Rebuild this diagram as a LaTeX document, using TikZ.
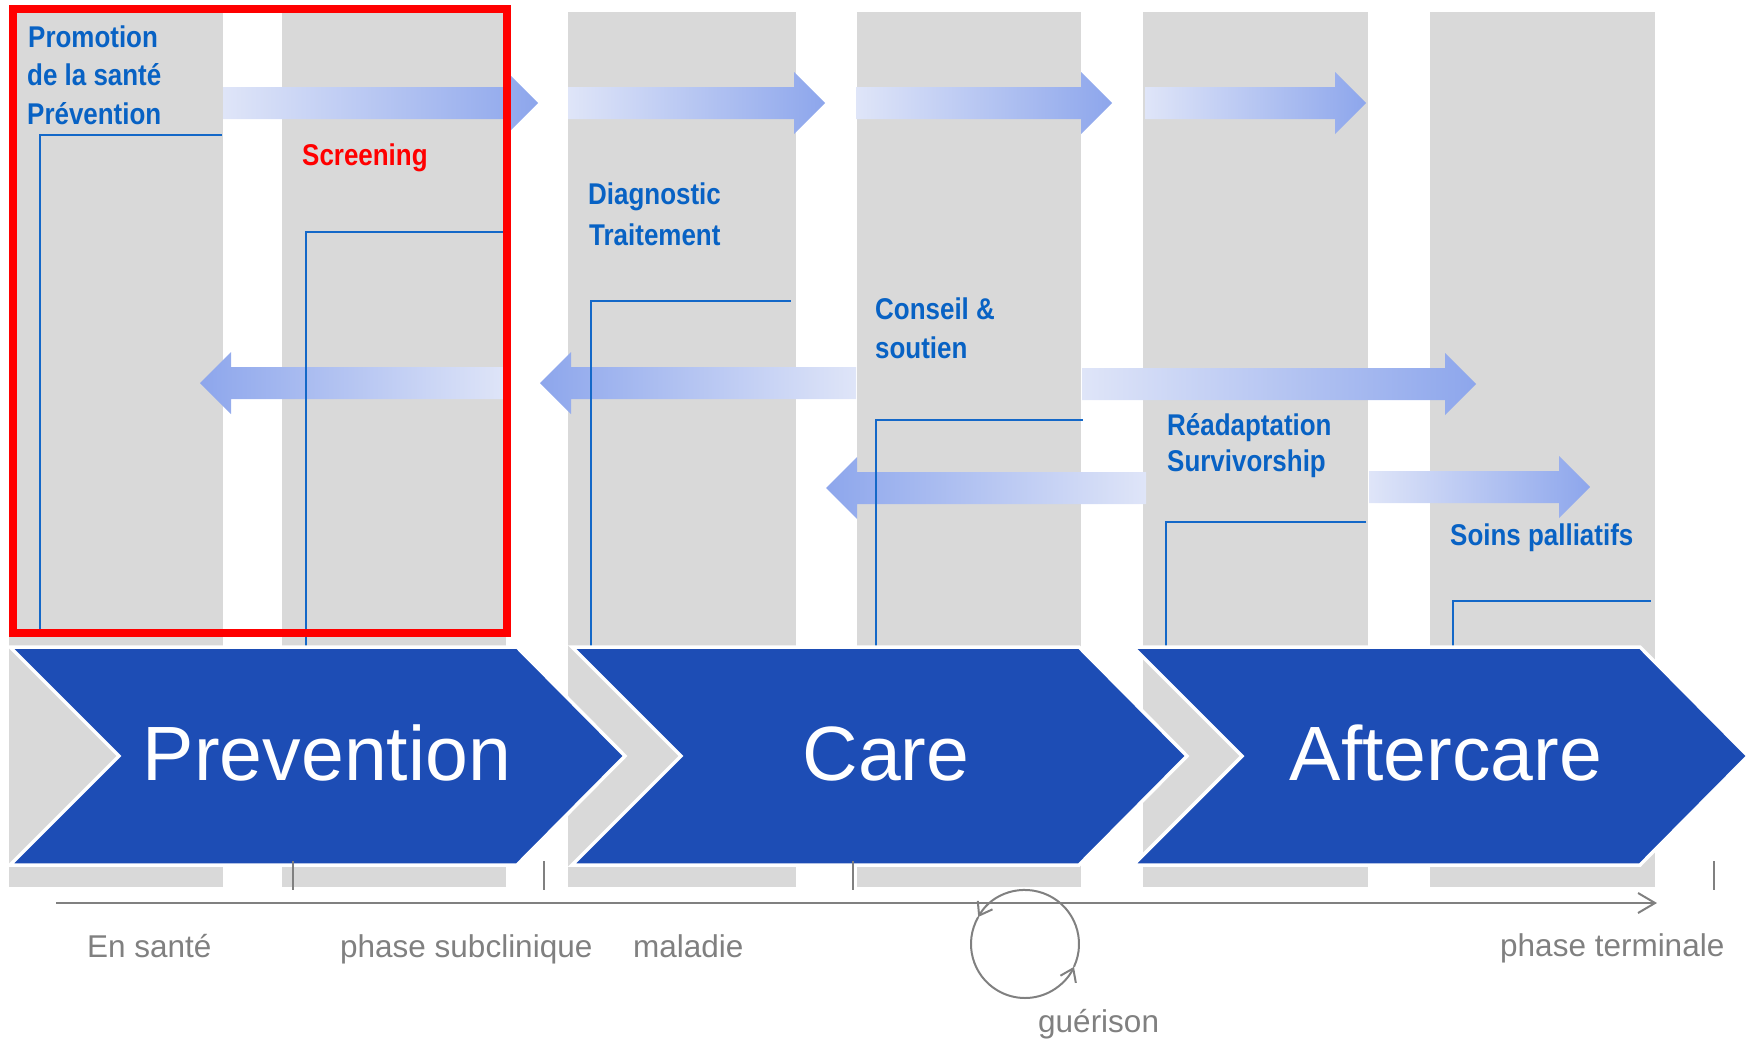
\documentclass[tikz,border=0pt]{standalone}
\usepackage{fontspec}
\setmainfont{Liberation Sans}
\newfontfamily\condfont[FakeStretch=0.865]{Liberation Sans}
\usetikzlibrary{arrows.meta,calc}
\definecolor{colgray}{RGB}{217,217,217}
\definecolor{chevblue}{RGB}{29,77,181}
\definecolor{txtblue}{RGB}{8,98,196}
\definecolor{lineblue}{RGB}{20,104,200}
\definecolor{flowlight}{RGB}{223,229,248}
\definecolor{flowdark}{RGB}{141,166,236}
\definecolor{axgray}{RGB}{128,128,128}
\newcommand{\flowR}[3]{\shade[left color=flowlight,right color=flowdark] (#1,#3-16) -- (#2-31,#3-16) -- (#2-31,#3-31) -- (#2,#3) -- (#2-31,#3+31) -- (#2-31,#3+16) -- (#1,#3+16) -- cycle;}
\newcommand{\flowL}[3]{\shade[left color=flowdark,right color=flowlight] (#1,#3-16) -- (#2+31,#3-16) -- (#2+31,#3-31) -- (#2,#3) -- (#2+31,#3+31) -- (#2+31,#3+16) -- (#1,#3+16) -- cycle;}
\newcommand{\chevshape}[1]{(#1,647) -- (#1+507,647) -- (#1+615,756) -- (#1+507,865) -- (#1,865) -- (#1+109,756) -- cycle}
\begin{document}
\begin{tikzpicture}[x=1pt,y=-1pt,
  colbox/.style={fill=colgray,draw=none},
  lbl/.style={font=\condfont\bfseries\fontsize{30}{36}\selectfont,text=txtblue,inner sep=0pt,anchor=base west},
  redlbl/.style={lbl,text=red},
  bracket/.style={draw=lineblue,line width=2pt},
  chev/.style={fill=chevblue,draw=white,line width=3.5pt},
  chevtxt/.style={font=\fontsize{77}{80}\selectfont,text=white,inner sep=0pt,anchor=base},
  phase/.style={font=\fontsize{31.5}{36}\selectfont,text=axgray,inner sep=0pt,anchor=base west},
  tick/.style={draw=axgray,line width=2pt},
  axis/.style={draw=axgray,line width=2pt,-{Straight Barb[length=17pt,width=20pt,line width=2pt]}},
  loop/.style={draw=axgray,line width=2pt,-{Straight Barb[length=12pt,width=17pt,line width=2pt]}}
]
\useasboundingbox (0,0) rectangle (1756,1039);
% grey columns
\fill[colbox] (9,12) rectangle (223,887);
\fill[colbox] (282,12) rectangle (506,887);
\fill[colbox] (568,12) rectangle (796,887);
\fill[colbox] (857,12) rectangle (1081,887);
\fill[colbox] (1143,12) rectangle (1368,887);
\fill[colbox] (1430,12) rectangle (1655,887);
% flow arrows
\flowR{223}{538}{103}
\flowR{568}{825}{103}
\flowR{856}{1112}{103}
\flowR{1145}{1366}{103}
\flowL{506}{200}{383}
\flowL{856}{540}{383}
\flowR{1082}{1476}{384}
\flowL{1146}{826}{488}
\flowR{1369}{1590}{487}
% brackets
\draw[bracket] (40,633) -- (40,135) -- (222,135);
\draw[bracket] (306,648) -- (306,232) -- (504,232);
\draw[bracket] (591,648) -- (591,301) -- (791,301);
\draw[bracket] (876,648) -- (876,420) -- (1083,420);
\draw[bracket] (1166,648) -- (1166,521.5) -- (1366,521.5);
\draw[bracket] (1453,648) -- (1453,601) -- (1651,601);
% red frame
\draw[red,line width=8pt] (13,9) rectangle (507,633);
% labels
\node[lbl] (prom1) at (28,47) {Promotion};
\node[lbl] (prom2) at (27,85.5) {de la santé};
\node[lbl] (prom3) at (27,124) {Prévention};
\node[redlbl] (scr) at (302,165) {Screening};
\node[lbl] (diag1) at (588,204) {Diagnostic};
\node[lbl] (diag2) at (589,245) {Traitement};
\node[lbl] (cons1) at (875,319) {Conseil \&};
\node[lbl] (cons2) at (875,358) {soutien};
\node[lbl] (read1) at (1167,435) {Réadaptation};
\node[lbl] (read2) at (1167,471) {Survivorship};
\node[lbl] (soins) at (1450,545) {Soins palliatifs};
% chevrons
\draw[chev] \chevshape{10};
\draw[chev] \chevshape{572};
\draw[chev] \chevshape{1133};
\node[chevtxt] (prev) at (327,780) {Prevention};
\node[chevtxt] (care) at (886,780) {Care};
\node[chevtxt] (after) at (1446,780) {Aftercare};
% timeline
\draw[tick] (293,861) -- (293,890);
\draw[tick] (544,861) -- (544,890);
\draw[tick] (853,861) -- (853,890);
\draw[tick] (1714,861) -- (1714,890);
\coordinate (axs) at (56,903);
\coordinate (axe) at (1657,903);
\draw[axis] (axs) -- (axe);
\coordinate (cc) at (1025,944);
\draw[loop] ([shift={(-25:54pt)}]cc) arc[start angle=-25,end angle=150,radius=54pt];
\draw[loop] ([shift={(150:54pt)}]cc) arc[start angle=150,end angle=335,radius=54pt];
\node[phase] (sante) at (87,957) {En santé};
\node[phase] (subcl) at (340,957) {phase subclinique};
\node[phase] (mal) at (633,957) {maladie};
\node[phase] (term) at (1500,956) {phase terminale};
\node[phase] (guer) at (1038,1032) {guérison};
\end{tikzpicture}
\end{document}
